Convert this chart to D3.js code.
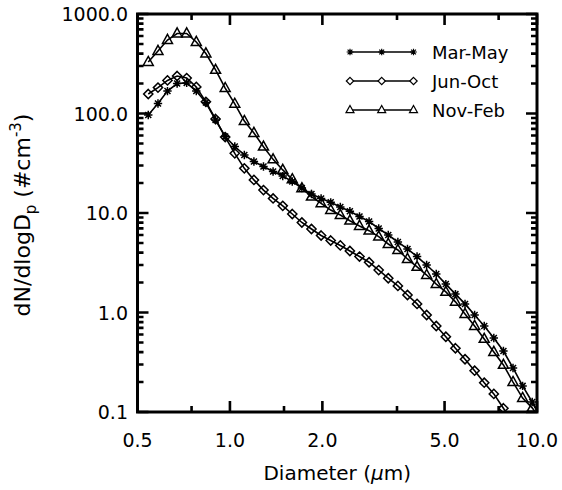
<!DOCTYPE html>
<html><head><meta charset="utf-8">
<script src="https://cdn.jsdelivr.net/npm/d3@7"></script>
<style>body{margin:0;background:#fff}svg{display:block}</style>
</head><body>
<script>
// APS channel mid-point diameters (um)
const diameters = [0.542,0.583,0.626,0.673,0.723,0.777,0.835,0.898,0.965,1.037,1.114,1.197,1.286,1.382,1.486,1.596,1.715,1.843,1.981,2.129,2.288,2.458,2.642,2.839,3.051,3.278,3.523,3.786,4.068,4.371,4.698,5.048,5.425,5.829,6.264,6.732,7.234,7.774,8.354,8.977,9.647,10.37];
const marMay = [96.6,126,168,200,203,168,129,86,58.7,46.6,38.3,32.9,29.3,26.1,23.5,20.7,17.8,15.5,14.0,12.8,11.5,10.4,9.22,8.21,6.99,6.01,5.11,4.35,3.65,3.00,2.44,1.93,1.53,1.22,0.944,0.732,0.554,0.410,0.277,0.183,0.126,0.085];
const junOct = [157,182,215,238,227,185,131,88,58.0,39.8,28.1,21.5,17.0,14.0,11.8,9.77,8.03,6.91,5.94,5.29,4.72,4.15,3.65,3.20,2.67,2.21,1.85,1.50,1.22,0.944,0.732,0.571,0.437,0.339,0.260,0.197,0.152,0.109,0.078];
const novFeb = [329,425,548,637,637,523,401,274,180,125,84,63.7,46.4,34.6,27.1,21.8,17.7,14.6,12.5,10.7,9.55,8.37,7.40,6.64,5.78,4.88,4.25,3.45,2.87,2.38,1.93,1.61,1.28,0.966,0.732,0.542,0.401,0.297,0.200,0.138,0.110,0.080];
const seriesNames = ["Mar-May","Jun-Oct","Nov-Feb"];
const xTickValues = [0.5,1,2,5,10];
const xTickLabels = ["0.5","1.0","2.0","5.0","10.0"];
const xMinorValues = [0.75,1.5,3.5,7.5];
const yTickValues = [0.1,1,10,100,1000];
const yTickLabels = ["0.1","1.0","10.0","100.0","1000.0"];
const yMinorValues = [0.2,0.3,0.4,0.5,0.6,0.7,0.8,0.9,2,3,4,5,6,7,8,9,20,30,40,50,60,70,80,90,200,300,400,500,600,700,800,900];

const W = 562, H = 490;
const L = 137.5, R = 537, T = 14, B = 412;
const FONT = "DejaVu Sans, Liberation Sans, Arial, sans-serif";

const svg = d3.select("body").append("svg").attr("width", W).attr("height", H);
const x = d3.scaleLog().domain([0.5, 10]).range([L, R]);
const y = d3.scaleLog().domain([0.1, 1000]).range([B, T]);

const sym = {
  star: "M-4.2,0H4.2M0,-4.2V4.2M-3,-3L3,3M-3,3L3,-3",
  diamond: "M0,-4.6L4.6,0L0,4.6L-4.6,0Z",
  triangle: "M0,-5.6L5,3.4L-5,3.4Z"
};
const series = [
  {name: seriesNames[0], values: marMay, s: sym.star},
  {name: seriesNames[1], values: junOct, s: sym.diamond},
  {name: seriesNames[2], values: novFeb, s: sym.triangle}
];

const defs = svg.append("defs");
defs.append("clipPath").attr("id","plotclip").append("rect")
  .attr("x", L).attr("y", T).attr("width", R - L).attr("height", B - T);

const plot = svg.append("g").attr("clip-path","url(#plotclip)");
const line = d3.line().x((d,i) => x(diameters[i])).y(d => y(d));
series.forEach(sr => {
  plot.append("path").attr("d", line(sr.values)).attr("fill","none")
    .attr("stroke","#000").attr("stroke-width",1.6);
  plot.selectAll(null).data(sr.values).enter().append("path")
    .attr("transform",(d,i) => `translate(${x(diameters[i])},${y(d)})`)
    .attr("d", sr.s).attr("fill","none").attr("stroke","#000").attr("stroke-width",1.5);
});

// frame
svg.append("rect").attr("x",L).attr("y",T).attr("width",R-L).attr("height",B-T)
  .attr("fill","none").attr("stroke","#000").attr("stroke-width",3);

// inward ticks on all four sides, positioned by the scales
let td = "";
xTickValues.forEach(v => { const p = x(v); td += `M${p},${B}V${B-11}M${p},${T}V${T+11}`; });
xMinorValues.forEach(v => { const p = x(v); td += `M${p},${B}V${B-6}M${p},${T}V${T+6}`; });
yTickValues.forEach(v => { const p = y(v); td += `M${L},${p}H${L+11}M${R},${p}H${R-11}`; });
yMinorValues.forEach(v => { const p = y(v); td += `M${L},${p}H${L+6}M${R},${p}H${R-6}`; });
svg.append("path").attr("d", td).attr("fill","none").attr("stroke","#000").attr("stroke-width",2.6);

// tick labels
xTickValues.forEach((v,i) => {
  svg.append("text").attr("x", x(v)).attr("y", 447).attr("text-anchor","middle")
    .attr("font-family",FONT).attr("font-size",19).text(xTickLabels[i]);
});
yTickValues.forEach((v,i) => {
  svg.append("text").attr("x", 128).attr("y", y(v)+7).attr("text-anchor","end")
    .attr("font-family",FONT).attr("font-size",19).text(yTickLabels[i]);
});

// axis titles
const xt = svg.append("text").attr("x",(L+R)/2).attr("y",480).attr("text-anchor","middle")
  .attr("font-family",FONT).attr("font-size",20);
xt.append("tspan").text("Diameter (");
xt.append("tspan").attr("font-style","italic").text("\u03bc");
xt.append("tspan").text("m)");

const yt = svg.append("text").attr("transform","translate(30,215) rotate(-90)").attr("text-anchor","middle")
  .attr("font-family",FONT).attr("font-size",22);
yt.append("tspan").text("dN/dlogD");
yt.append("tspan").attr("font-size",15).attr("dy",6).text("p");
yt.append("tspan").attr("dy",-6).text(" (#cm");
yt.append("tspan").attr("font-size",15).attr("dy",-9).text("-3");
yt.append("tspan").attr("dy",9).text(")");

// legend
const legY = [52, 81, 110];
series.forEach((sr,i) => {
  const g = svg.append("g");
  g.append("line").attr("x1",350).attr("x2",413.5).attr("y1",legY[i]).attr("y2",legY[i])
    .attr("stroke","#000").attr("stroke-width",1.4);
  [350,381.7,413.5].forEach(px => g.append("path").attr("transform",`translate(${px},${legY[i]}) scale(0.8)`)
    .attr("d",sr.s).attr("fill","#fff").attr("stroke","#000").attr("stroke-width",1.5));
  g.append("text").attr("x",432).attr("y",legY[i]+6.5).attr("font-family",FONT).attr("font-size",18).text(sr.name);
});
</script>
</body></html>
